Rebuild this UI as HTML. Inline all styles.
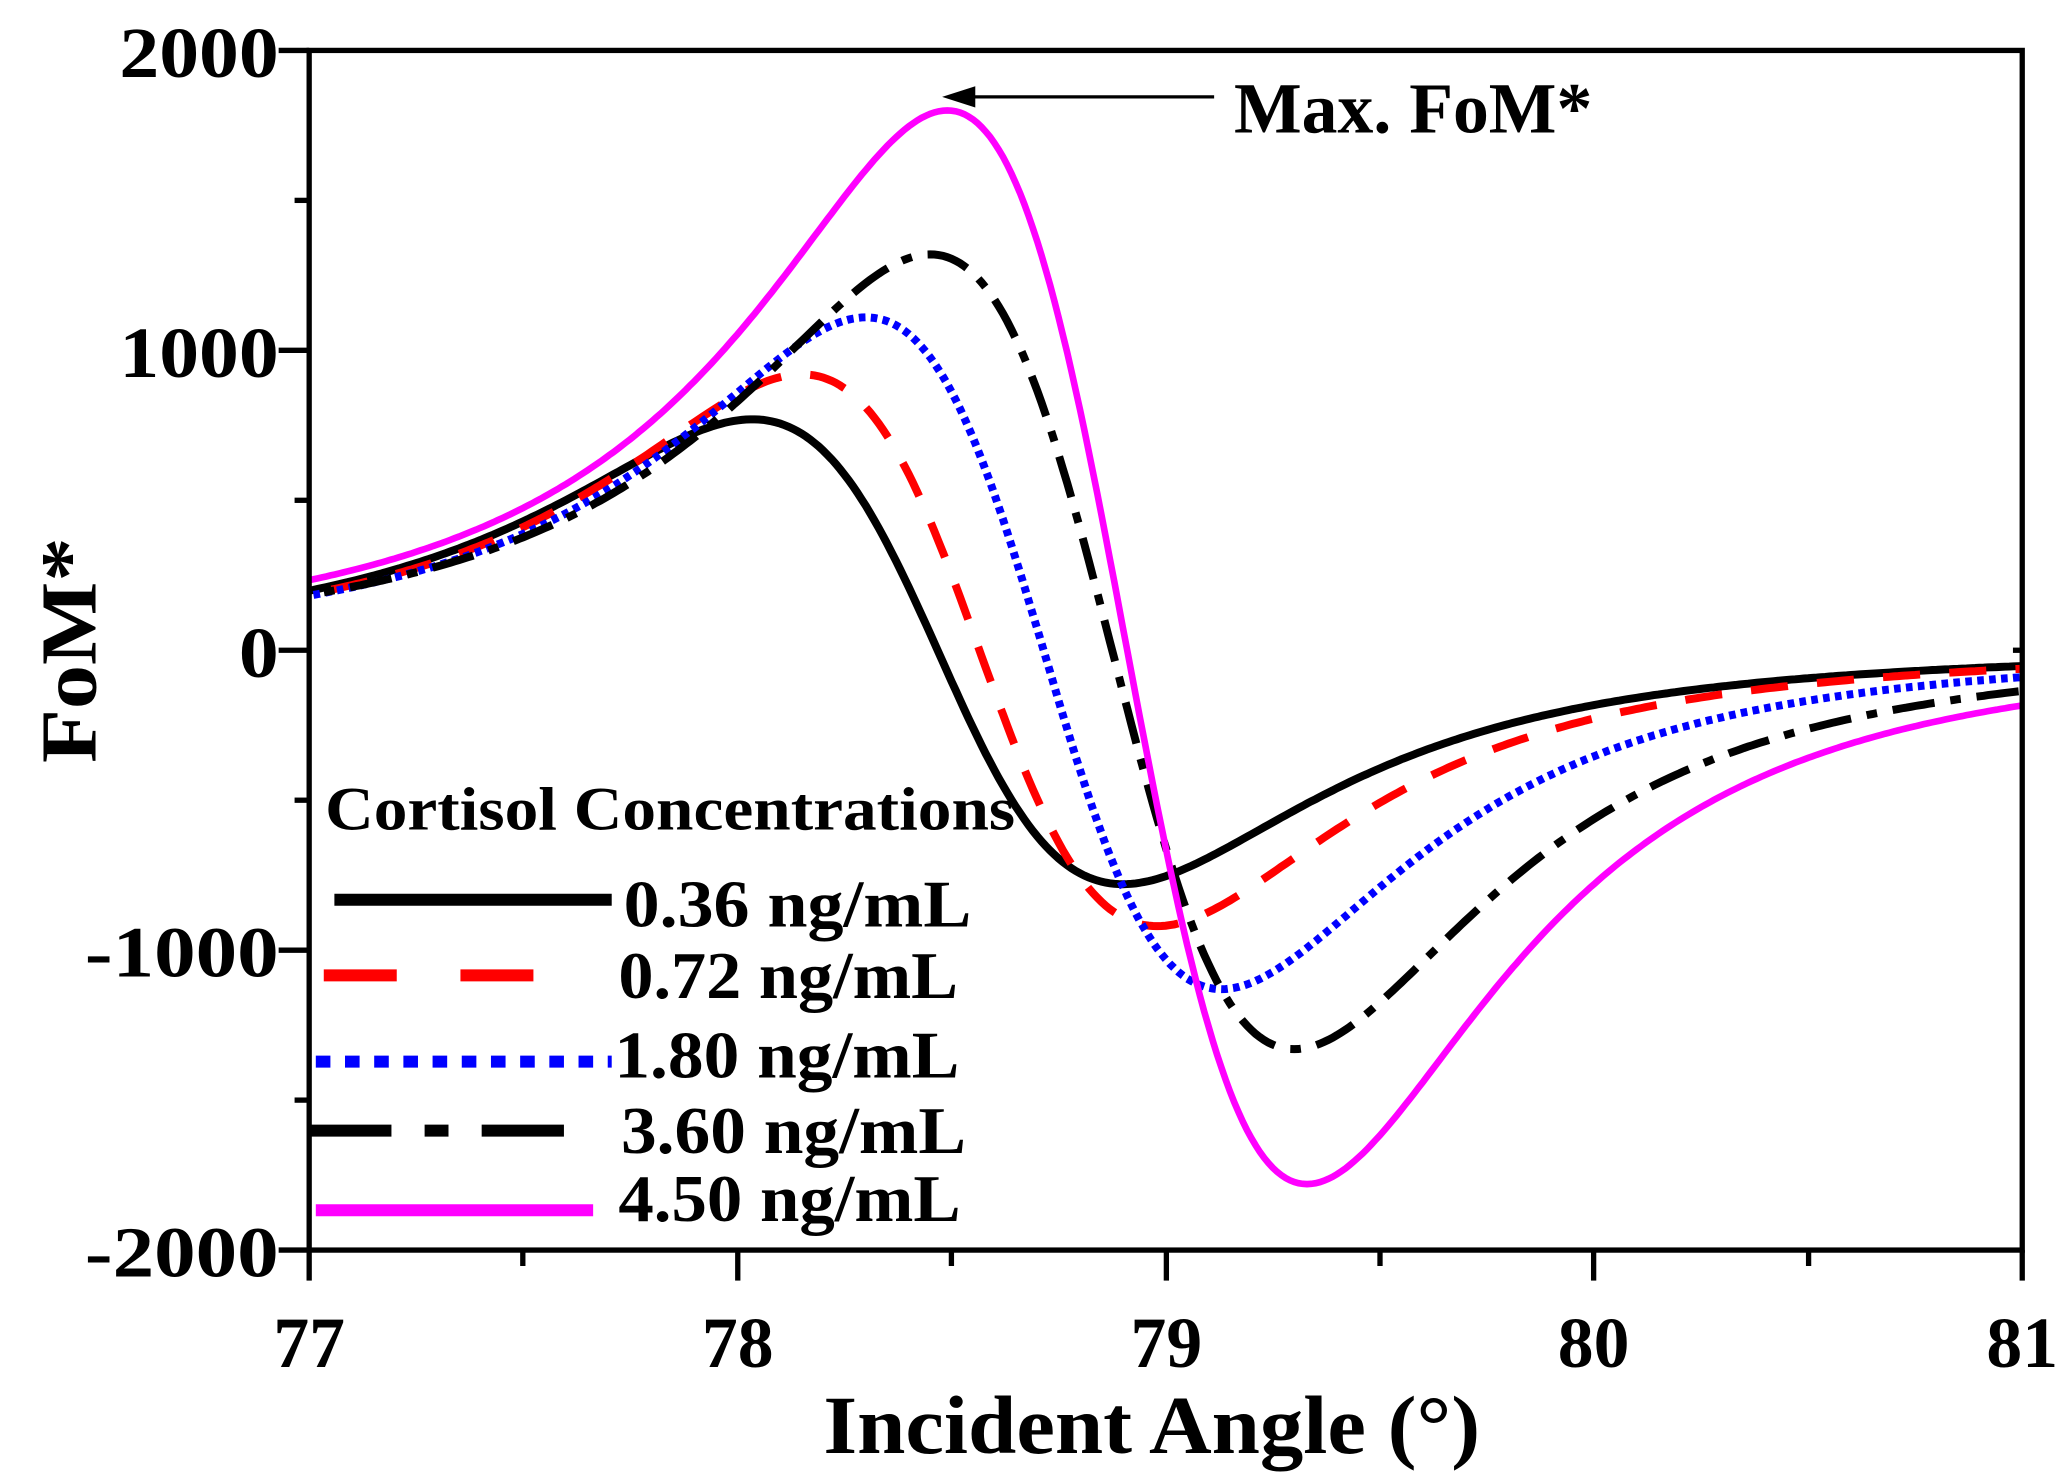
<!DOCTYPE html>
<html><head><meta charset="utf-8"><style>html,body{margin:0;padding:0;background:#fff}svg{display:block}text{font-family:"Liberation Serif",serif;font-weight:bold;fill:#000}</style></head>
<body>
<svg id="s" width="2070" height="1477" viewBox="0 0 1560 1113" preserveAspectRatio="none" xmlns="http://www.w3.org/2000/svg">
<defs><clipPath id="c"><rect x="233" y="38" width="1291" height="904"/></clipPath></defs>
<g id="curves" clip-path="url(#c)"></g>
<rect x="233" y="38" width="1291" height="904" fill="none" stroke="#000" stroke-width="4"/>
<g stroke="#000" stroke-width="4">
<line x1="210" y1="38" x2="233" y2="38"/><line x1="210" y1="264" x2="233" y2="264"/><line x1="210" y1="490" x2="233" y2="490"/><line x1="210" y1="716" x2="233" y2="716"/><line x1="210" y1="942" x2="233" y2="942"/>
<line x1="222" y1="151" x2="233" y2="151"/><line x1="222" y1="377" x2="233" y2="377"/><line x1="222" y1="603" x2="233" y2="603"/><line x1="222" y1="829" x2="233" y2="829"/>
<line x1="1517" y1="490" x2="1524" y2="490"/>
<line x1="233" y1="942" x2="233" y2="965"/><line x1="556" y1="942" x2="556" y2="965"/><line x1="879" y1="942" x2="879" y2="965"/><line x1="1201" y1="942" x2="1201" y2="965"/><line x1="1524" y1="942" x2="1524" y2="965"/>
<line x1="394" y1="942" x2="394" y2="954"/><line x1="717" y1="942" x2="717" y2="954"/><line x1="1040" y1="942" x2="1040" y2="954"/><line x1="1363" y1="942" x2="1363" y2="954"/>
</g>
<g font-size="54" text-anchor="end">
<text x="210" y="58" textLength="120" lengthAdjust="spacingAndGlyphs">2000</text>
<text x="210" y="284" textLength="120" lengthAdjust="spacingAndGlyphs">1000</text>
<text x="210" y="510" textLength="30" lengthAdjust="spacingAndGlyphs">0</text>
<text x="210" y="736" textLength="146" lengthAdjust="spacingAndGlyphs">-1000</text>
<text x="210" y="962" textLength="146" lengthAdjust="spacingAndGlyphs">-2000</text>
</g>
<g font-size="54" text-anchor="middle">
<text x="233" y="1030">77</text><text x="556" y="1030">78</text><text x="879" y="1030">79</text><text x="1201" y="1030">80</text><text x="1524" y="1030">81</text>
</g>
<text x="868" y="1095" font-size="62" text-anchor="middle" textLength="495" lengthAdjust="spacingAndGlyphs">Incident Angle (°)</text>
<text transform="translate(72,490) rotate(-90)" font-size="60" text-anchor="middle" textLength="170" lengthAdjust="spacingAndGlyphs">FoM*</text>
<text x="930" y="100" font-size="54" textLength="270" lengthAdjust="spacingAndGlyphs">Max. FoM*</text>
<line x1="915" y1="73" x2="730" y2="73" stroke="#000" stroke-width="2.5"/>
<polygon points="710,73 735,65 735,81" fill="#000"/>
<text x="245" y="625" font-size="46" textLength="520" lengthAdjust="spacingAndGlyphs">Cortisol Concentrations</text>
<g font-size="50">
<text x="470" y="698" textLength="262" lengthAdjust="spacingAndGlyphs">0.36 ng/mL</text>
<text x="466" y="752" textLength="256" lengthAdjust="spacingAndGlyphs">0.72 ng/mL</text>
<text x="463" y="812" textLength="260" lengthAdjust="spacingAndGlyphs">1.80 ng/mL</text>
<text x="468" y="869" textLength="260" lengthAdjust="spacingAndGlyphs">3.60 ng/mL</text>
<text x="466" y="920" textLength="258" lengthAdjust="spacingAndGlyphs">4.50 ng/mL</text>
</g>
<g stroke-width="9" fill="none">
<line x1="252" y1="678" x2="461" y2="678" stroke="#000"/>
<line x1="244" y1="735" x2="444" y2="735" stroke="#f00" stroke-dasharray="55,48"/>
<line x1="238" y1="800" x2="461" y2="800" stroke="#00f" stroke-dasharray="11,11"/>
<line x1="233" y1="852" x2="441" y2="852" stroke="#000" stroke-dasharray="62,25,18,25"/>
<line x1="238" y1="912" x2="447" y2="912" stroke="#f0f"/>
</g>
</svg>
<script>
var g=document.getElementById('curves');
function X(v){return 233+(v-77)*322.75;}
function Y(v){return 490-v*0.226;}
var S=[
 [78.035,78.9,770,-780,'#000',6,''],
 [78.15,78.98,920,-920,'#f00',6,'28,22'],
 [78.3,79.13,1110,-1130,'#00f',6,'5,4'],
 [78.45,79.3,1320,-1330,'#000',6,'32,12,8,12'],
 [78.49,79.33,1800,-1780,'#f0f',5,'']
];
S.forEach(function(s){
 var c=(s[0]+s[1])/2,h=(s[1]-s[0])/2,w=h*Math.sqrt(3);
 function gf(d){return -d/Math.pow(d*d+w*w,2);}
 var gm=gf(-h),d="";
 for(var x=76.9;x<=81.1;x+=0.01){var dd=x-c,v=gf(dd)/gm;v=v>0?v*s[2]:-v*s[3];d+=(d?"L":"M")+X(x).toFixed(1)+","+Y(v).toFixed(1);}
 var p=document.createElementNS("http://www.w3.org/2000/svg","path");
 p.setAttribute("d",d);p.setAttribute("fill","none");p.setAttribute("stroke",s[4]);p.setAttribute("stroke-width",s[5]);
 if(s[6])p.setAttribute("stroke-dasharray",s[6]);
 g.appendChild(p);
});
</script>
</body></html>
